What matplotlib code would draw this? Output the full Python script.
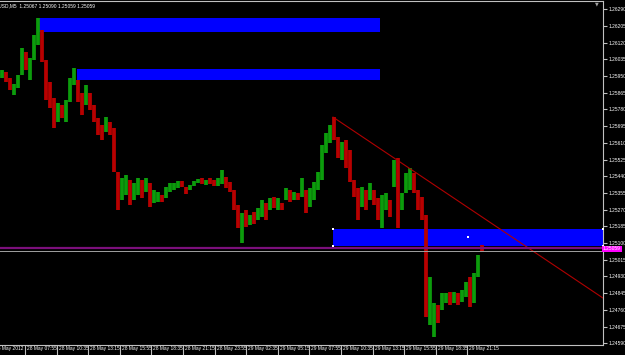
import numpy as np
import matplotlib
matplotlib.use("Agg")
import matplotlib.pyplot as plt
from matplotlib.transforms import ScaledTranslation

# GBPUSD M5 bars (grouped ~4 bars per column)
highs = [1.25981, 1.25971, 1.25940, 1.25910, 1.25955, 1.26093, 1.26072, 1.26042, 1.26159, 1.26245,
         1.26184, 1.26032, 1.25920, 1.25838, 1.25813, 1.25803, 1.25828, 1.25940, 1.25991, 1.25930,
         1.25864, 1.25904, 1.25864, 1.25803, 1.25736, 1.25701, 1.25741, 1.25716, 1.25686, 1.25462,
         1.25431, 1.25446, 1.25421, 1.25405, 1.25431, 1.25421, 1.25431, 1.25405, 1.25370, 1.25360,
         1.25344, 1.25385, 1.25405, 1.25405, 1.25416, 1.25416, 1.25385, 1.25395, 1.25416, 1.25426,
         1.25431, 1.25421, 1.25431, 1.25421, 1.25431, 1.25472, 1.25436, 1.25411, 1.25370, 1.25294,
         1.25253, 1.25268, 1.25243, 1.25258, 1.25278, 1.25319, 1.25304, 1.25329, 1.25334, 1.25329,
         1.25304, 1.25380, 1.25370, 1.25360, 1.25355, 1.25431, 1.25370, 1.25380, 1.25411, 1.25462,
         1.25599, 1.25660, 1.25701, 1.25741, 1.25640, 1.25614, 1.25624, 1.25574, 1.25421, 1.25380,
         1.25385, 1.25370, 1.25405, 1.25370, 1.25329, 1.25344, 1.25355, 1.25319, 1.25523, 1.25533,
         1.25355, 1.25456, 1.25482, 1.25456, 1.25370, 1.25334, 1.25243, 1.24927, 1.24795, 1.24785,
         1.24846, 1.24846, 1.24851, 1.24851, 1.24846, 1.24861, 1.24902, 1.24927, 1.24947, 1.25039,
         1.25090]
lows = [1.25940, 1.25920, 1.25879, 1.25853, 1.25889, 1.25955, 1.25981, 1.25930, 1.26032, 1.26108,
        1.26021, 1.25828, 1.25787, 1.25686, 1.25716, 1.25736, 1.25716, 1.25818, 1.25904, 1.25818,
        1.25752, 1.25803, 1.25777, 1.25716, 1.25650, 1.25624, 1.25665, 1.25650, 1.25462, 1.25268,
        1.25319, 1.25344, 1.25294, 1.25319, 1.25344, 1.25329, 1.25360, 1.25283, 1.25304, 1.25309,
        1.25309, 1.25329, 1.25360, 1.25370, 1.25380, 1.25385, 1.25350, 1.25370, 1.25390, 1.25405,
        1.25400, 1.25395, 1.25400, 1.25390, 1.25390, 1.25400, 1.25380, 1.25360, 1.25268, 1.25176,
        1.25100, 1.25182, 1.25192, 1.25197, 1.25217, 1.25232, 1.25217, 1.25268, 1.25278, 1.25268,
        1.25268, 1.25319, 1.25309, 1.25319, 1.25319, 1.25334, 1.25253, 1.25283, 1.25319, 1.25370,
        1.25421, 1.25558, 1.25609, 1.25624, 1.25533, 1.25523, 1.25482, 1.25411, 1.25334, 1.25217,
        1.25283, 1.25268, 1.25319, 1.25294, 1.25217, 1.25176, 1.25268, 1.25232, 1.25385, 1.25176,
        1.25268, 1.25355, 1.25370, 1.25355, 1.25268, 1.25217, 1.24723, 1.24683, 1.24622, 1.24693,
        1.24759, 1.24795, 1.24785, 1.24795, 1.24785, 1.24800, 1.24825, 1.24774, 1.24795, 1.24927,
        1.25059]
# G = bull bar, R = bear bar
direction = ("GRRGGGRGGG" "RRRRGRGGGR" "RGRRRRGRRR" "GGRGGRGRGG" "RGGGGRRGGG"
             "RGRRGGRRRR" "GRGRGGRGRG" "RGRGRGRGGG" "GGGRRGRRRR" "GRGRRGGRGR"
             "GGGRRRRGGR" "GGRGRGGRGG" "R")

header = "GBPUSD,M5  1.25067 1.25090 1.25059 1.25059"
first_label = "28 May 2012"
time_labels = ["28 May 07:55", "28 May 10:35", "28 May 13:15", "28 May 15:55",
               "28 May 18:35", "28 May 21:15", "28 May 23:55", "29 May 02:35", "29 May 05:15",
               "29 May 07:55", "29 May 10:35", "29 May 13:15", "29 May 15:55", "29 May 18:35",
               "29 May 21:15"]
price_ticks = [1.24590 + 0.00085 * k for k in range(21)]

# rectangles drawn on the chart (bar index from/to, price top/bottom)
zone_start = [9, 18.75, 82.75]
zone_end = [94.5, 94.5, 151]
zone_top = [1.26248, 1.25986, 1.25172]
zone_bottom = [1.26176, 1.25930, 1.25085]

trend_x = [82.75, 150.25]
trend_y = [1.25741, 1.24820]
hline_price = 1.25075
bid_price = 1.25059

fig = plt.figure(figsize=(6.25, 3.55), dpi=100, facecolor="black")
ax = fig.add_axes([0, 10 / 355, 603 / 625, 344 / 355])
ax.set_facecolor("black")
ax.set_xlim(-0.5, 150.25)
ax.set_ylim(1.24581, 1.26332)

x = np.arange(len(highs))
cols = ["#0c9c0c" if d == "G" else "#b80000" for d in direction]
ax.vlines(x, lows, highs, colors=cols, linewidth=2.7, zorder=3)

for x0, x1, t, b in zip(zone_start, zone_end, zone_top, zone_bottom):
    ax.fill_between([x0, x1], b, t, color="#0000ff", lw=0, zorder=2)

# selection handles of the last rectangle
hx = [zone_start[2], zone_start[2], 150.25, 150.25, (zone_start[2] + 150.25) / 2]
hy = [zone_top[2], zone_bottom[2], zone_top[2], zone_bottom[2], (zone_top[2] + zone_bottom[2]) / 2]
ax.plot(hx, hy, "s", color="white", ms=1.8, mew=0, zorder=6, clip_on=False)

slope = (trend_y[1] - trend_y[0]) / (trend_x[1] - trend_x[0])
ax.plot([trend_x[0], 151], [trend_y[0], trend_y[0] + slope * (151 - trend_x[0])],
        color="#b00000", lw=0.8, zorder=4)

ax.axhline(hline_price, color="#7b0f7b", lw=1.6, zorder=4)
ax.axhline(bid_price, color="#a0a0a0", lw=0.7, zorder=4)

ax.spines["left"].set_visible(False)
for s in ["right", "bottom", "top"]:
    ax.spines[s].set_color("#c0c0c0")
    ax.spines[s].set_linewidth(0.8)

font = ["Liberation Sans", "DejaVu Sans"]
ax.yaxis.tick_right()
ax.set_yticks(price_ticks)
ax.set_yticklabels([f"{p:.5f}" for p in price_ticks], fontsize=3.5, color="white", family=font)
ax.tick_params(axis="y", length=3, color="#c0c0c0", pad=0.8)

xt = 5.75 + 7.9 * np.arange(len(time_labels))
ax.set_xticks(xt)
ax.set_xticklabels(time_labels, fontsize=3.5, color="white", ha="left", family=font)
ax.tick_params(axis="x", length=7, color="#c0c0c0", pad=-6)
off = ScaledTranslation(2 / 100, 0, fig.dpi_scale_trans)
for lab in ax.get_xticklabels():
    lab.set_transform(lab.get_transform() + off)

# first date label sits partly off the left edge
x_first = xt[0] - 7.9
ax.plot([x_first, x_first], [0, -7 / 344], transform=ax.get_xaxis_transform(),
        color="#c0c0c0", lw=0.8, clip_on=False)
ax.text(x_first, -1 / 344, first_label, transform=ax.get_xaxis_transform() + off,
        fontsize=3.5, color="white", family=font, ha="left", va="top")

# bid price label on the scale
ax.text(1.0, bid_price + 0.00012, f"{bid_price:.5f}", transform=ax.get_yaxis_transform(),
        fontsize=3.5, color="white", family=font, ha="left", va="center",
        bbox=dict(boxstyle="square,pad=0.15", fc="#ff00ff", ec="none"), zorder=7, clip_on=False)

fig.text(-12 / 625, 1 - 6 / 355, header, fontsize=3.5, color="white", family=font, va="center")
fig.text(597 / 625, 1 - 4 / 355, "\u25bc", fontsize=3.5, color="#a0a0a0", ha="center", va="center")

fig.savefig("out.png", dpi=100, facecolor="black")
